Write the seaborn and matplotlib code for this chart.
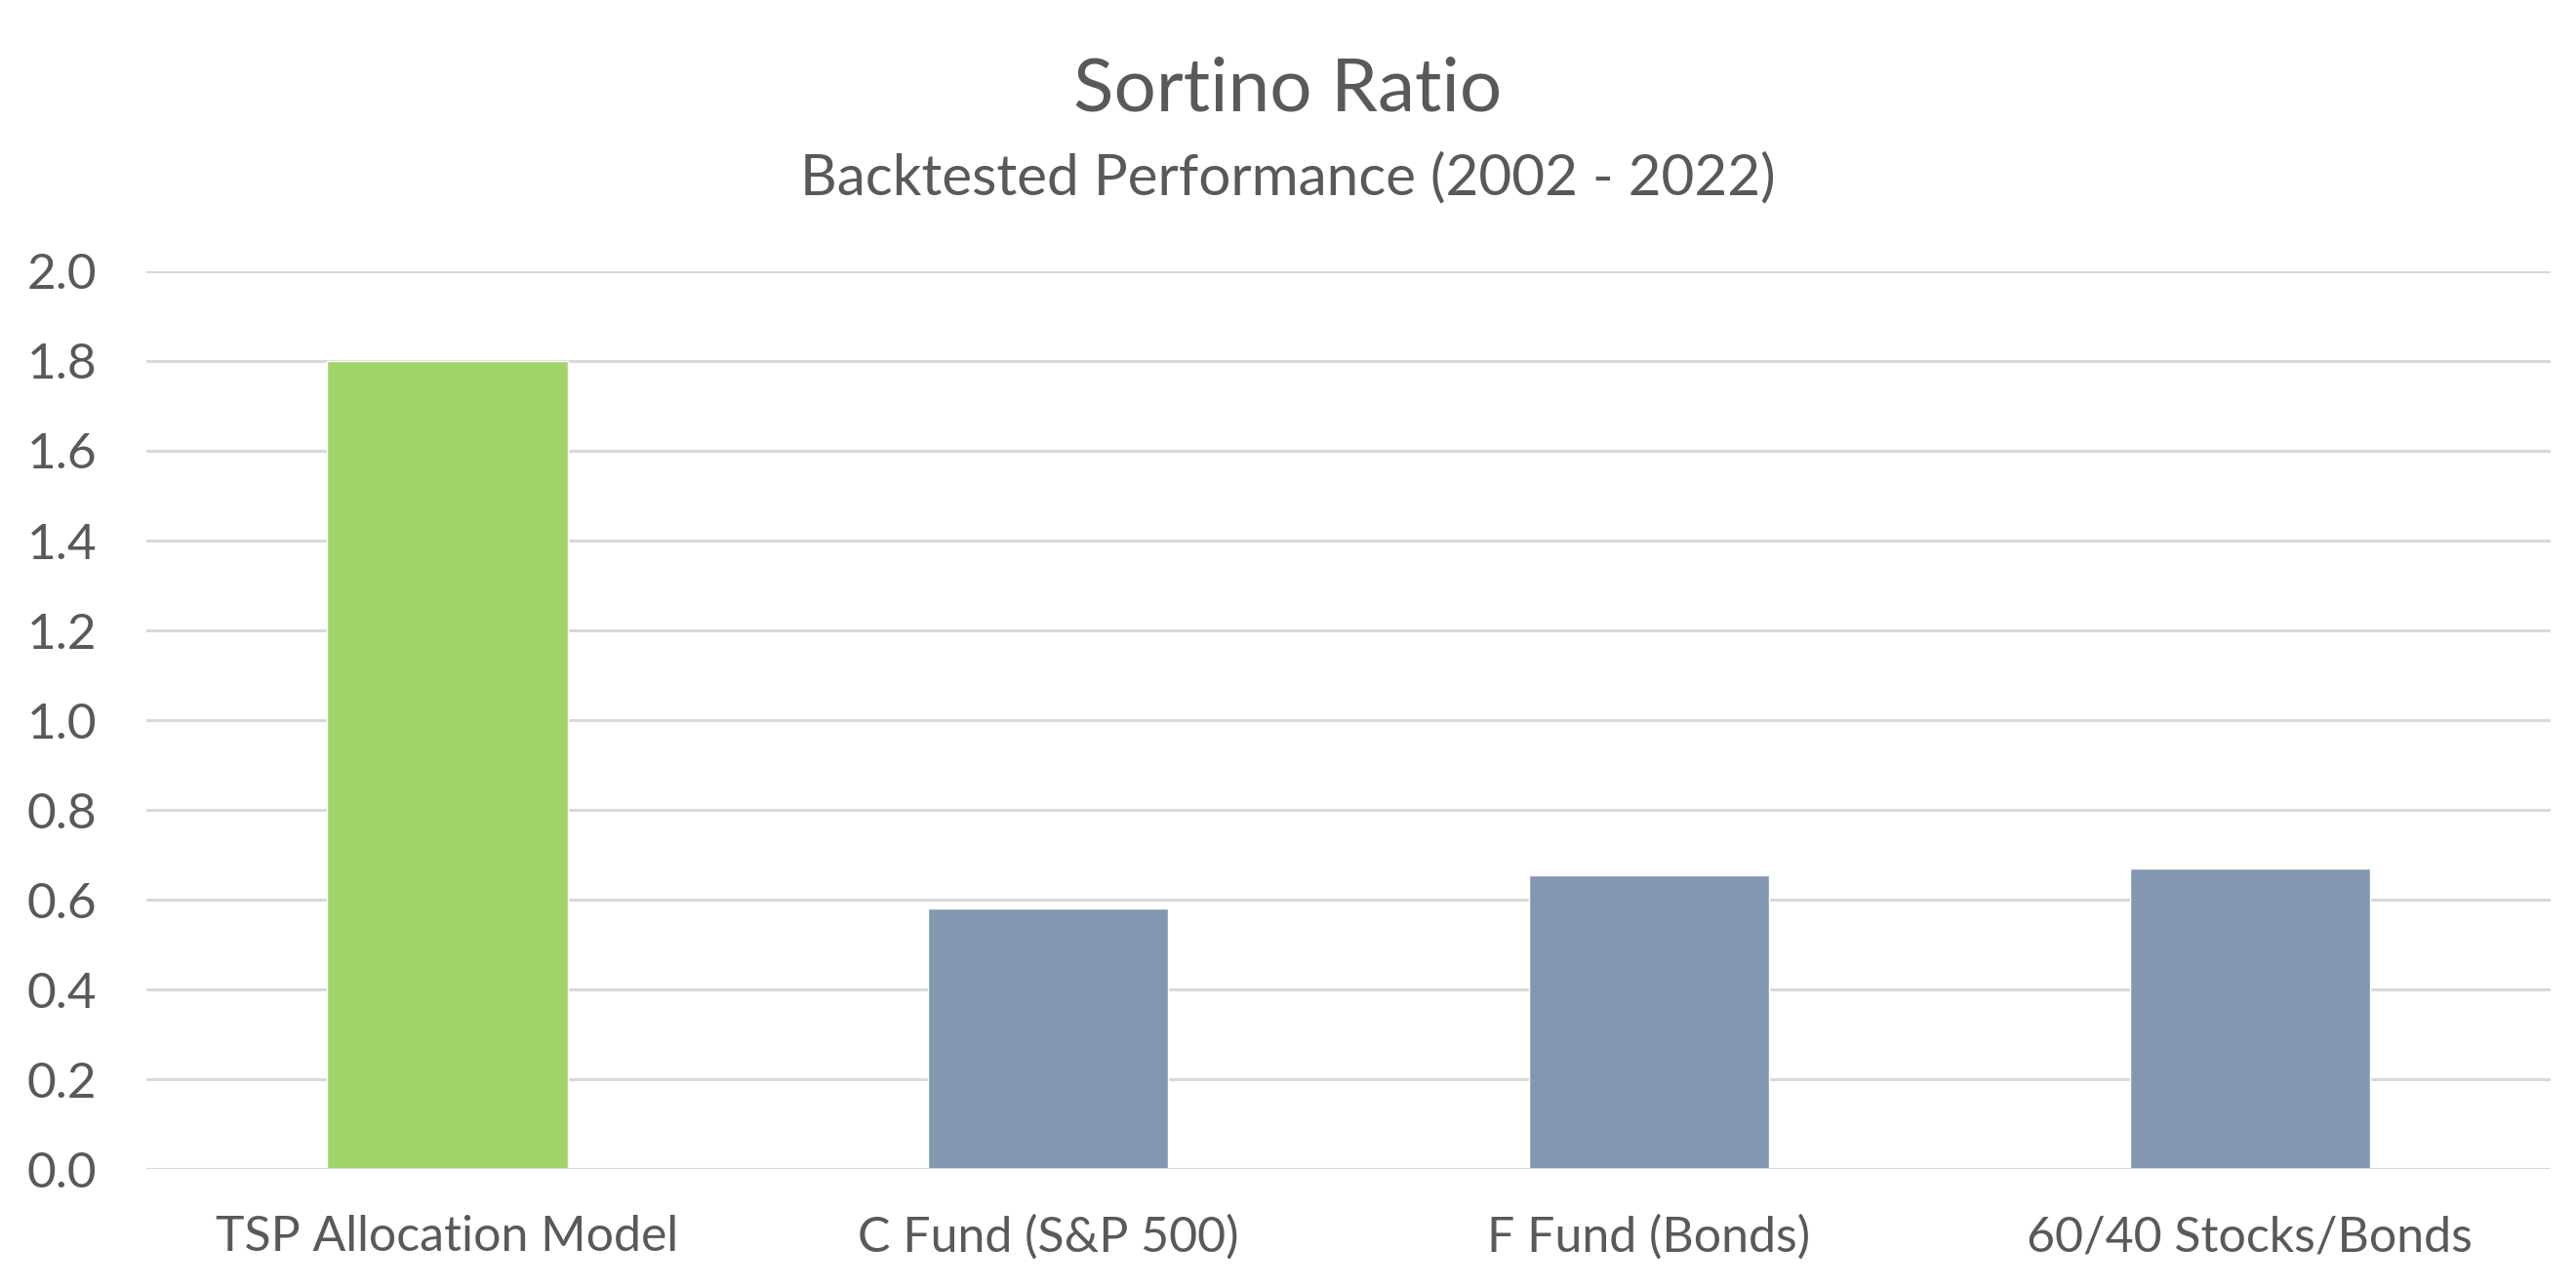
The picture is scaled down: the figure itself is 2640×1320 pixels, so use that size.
import pandas as pd
import matplotlib
matplotlib.use('Agg')
import matplotlib.pyplot as plt
import seaborn as sns

# chart data
categories = ['TSP Allocation Model', 'C Fund (S&P 500)', 'F Fund (Bonds)', '60/40 Stocks/Bonds']
sortino = [1.80, 0.58, 0.655, 0.67]
bar_colors = ['#A1D46B', '#8497B0', '#8497B0', '#8497B0']
y_ticks = [0.0, 0.2, 0.4, 0.6, 0.8, 1.0, 1.2, 1.4, 1.6, 1.8, 2.0]

title = 'Sortino Ratio'
subtitle = 'Backtested Performance (2002 - 2022)'

df = pd.DataFrame({'Fund': categories, 'Sortino': sortino})

sns.set_theme(style='white')
plt.rcParams['font.family'] = ['Lato', 'DejaVu Sans']
text_color = '#595959'

fig = plt.figure(figsize=(26.4, 13.2), dpi=100)
ax = fig.add_axes([0.057, 0.0924, 0.933, 0.697])

sns.barplot(data=df, x='Fund', y='Sortino', hue='Fund', palette=bar_colors,
            width=0.4, legend=False, ax=ax, zorder=3, saturation=1)

ax.set_ylim(0, 2.0)
ax.set_xlim(-0.5, 3.5)
ax.set_yticks(y_ticks)
ax.set_yticklabels([f'{t:.1f}' for t in y_ticks])
ax.yaxis.grid(True, color='#D9D9D9', linewidth=2.2, zorder=0)
ax.xaxis.grid(False)
for s in ['top', 'right', 'left', 'bottom']:
    ax.spines[s].set_visible(False)
ax.axhline(0, color='#D9D9D9', linewidth=2.2, zorder=4)

ax.tick_params(axis='y', labelsize=37, labelcolor=text_color, length=0, pad=37)
ax.tick_params(axis='x', labelsize=36, labelcolor=text_color, length=0, pad=34)
ax.set_xlabel('')
ax.set_ylabel('')

fig.text(0.5, 0.930, title, ha='center', va='center', fontsize=55, color=text_color)
fig.text(0.5, 0.862, subtitle, ha='center', va='center', fontsize=42, color=text_color)

fig.savefig('out.png', dpi=100, facecolor='white')
